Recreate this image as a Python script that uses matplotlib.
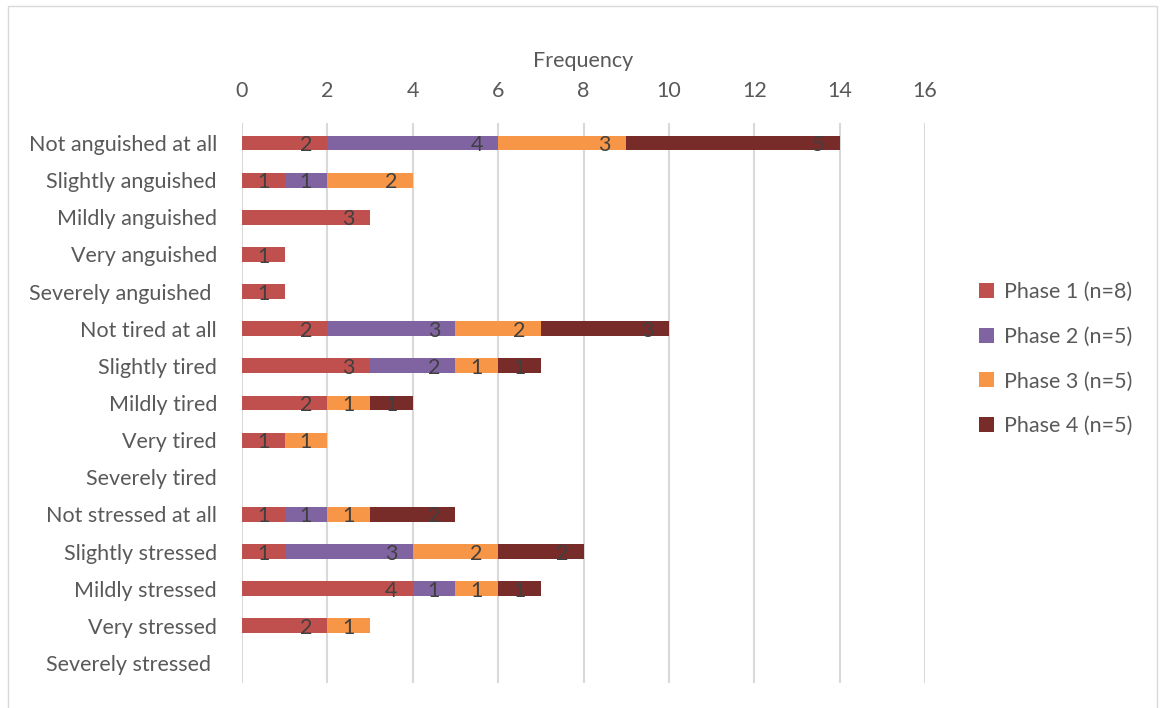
import numpy as np
import matplotlib.pyplot as plt
from matplotlib.patches import Rectangle

plt.rcParams['font.family'] = ['Lato', 'DejaVu Sans']

categories = [
    "Not anguished at all", "Slightly anguished", "Mildly anguished",
    "Very anguished", "Severely anguished ",
    "Not tired at all", "Slightly tired", "Mildly tired", "Very tired",
    "Severely tired",
    "Not stressed at all", "Slightly stressed", "Mildly stressed",
    "Very stressed", "Severely stressed ",
]
phase1 = [2, 1, 3, 1, 1, 2, 3, 2, 1, 0, 1, 1, 4, 2, 0]
phase2 = [4, 1, 0, 0, 0, 3, 2, 0, 0, 0, 1, 3, 1, 0, 0]
phase3 = [3, 2, 0, 0, 0, 2, 1, 1, 1, 0, 1, 2, 1, 1, 0]
phase4 = [5, 0, 0, 0, 0, 3, 1, 1, 0, 0, 2, 2, 1, 0, 0]
series_names = ["Phase 1 (n=8)", "Phase 2 (n=5)", "Phase 3 (n=5)", "Phase 4 (n=5)"]
colors = ["#C0504D", "#8064A2", "#F79646", "#772C2A"]
xticks = [0, 2, 4, 6, 8, 10, 12, 14, 16]

W, H = 1163, 708
fs = 15.5
fig = plt.figure(figsize=(W / 100, H / 100), dpi=100)
ax = fig.add_axes([242 / W, 1 - 683 / H, (925 - 242) / W, (683 - 123) / H])

y = np.arange(len(categories))
left = np.zeros(len(categories))
for vals, name, col in zip([phase1, phase2, phase3, phase4], series_names, colors):
    vals = np.array(vals, dtype=float)
    ax.barh(y, vals, left=left, height=0.4, color=col, label=name, zorder=3)
    for yi, v, l in zip(y, vals, left):
        if v > 0:
            ax.annotate(f"{int(v)}", xy=(l + v, yi), xytext=(-15.5, -1.5),
                        textcoords="offset points", ha="center", va="center",
                        fontsize=fs, color="#404040", zorder=4)
    left += vals

ax.set_xlim(0, 16)
ax.set_ylim(len(categories) - 1 + 0.54, -0.54)
ax.set_xticks(xticks)
ax.set_yticks(y)
ax.set_yticklabels(categories)
ax.xaxis.tick_top()
ax.xaxis.set_label_position("top")
ax.set_xlabel("Frequency", fontsize=fs, color="#595959", labelpad=10)
ax.tick_params(axis="both", length=0, labelsize=fs, labelcolor="#595959")
ax.tick_params(axis="x", pad=16)
ax.tick_params(axis="y", pad=18)
ax.grid(axis="x", color="#d9d9d9", linewidth=1.5, zorder=0)
for s in ax.spines.values():
    s.set_visible(False)

fig.legend(loc="center left", bbox_to_anchor=(968 / W, 1 - 359 / H),
           frameon=False, fontsize=fs, labelcolor="#595959",
           handlelength=0.7, handleheight=0.7, handletextpad=0.45,
           labelspacing=1.15, borderpad=0)

fig.patches.append(Rectangle((8 / W, -0.05), (1157 - 8) / W, 1.05 - 6 / H,
                             transform=fig.transFigure, fill=False,
                             edgecolor="#d9d9d9", linewidth=1.0))

fig.savefig("out.png", dpi=100)
